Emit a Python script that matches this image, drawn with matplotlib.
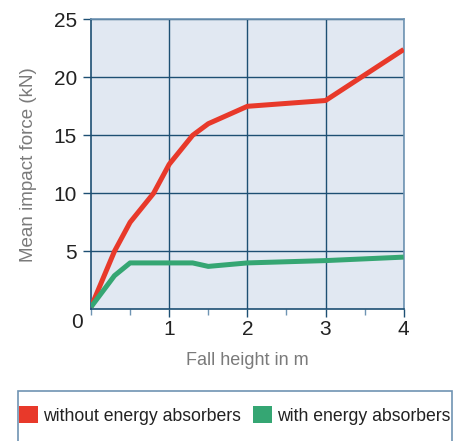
import matplotlib
matplotlib.use("Agg")
import matplotlib.pyplot as plt
from matplotlib.patches import Patch, Rectangle
from matplotlib.ticker import MultipleLocator

# fall height (m) and mean impact force (kN)
h_without = [0, 0.3, 0.5, 0.8, 1.0, 1.3, 1.5, 2.0, 3.0, 4.0]
f_without = [0.2, 5.0, 7.5, 10.0, 12.5, 15.0, 16.0, 17.5, 18.0, 22.4]
h_with = [0, 0.3, 0.5, 1.3, 1.5, 2.0, 3.0, 4.0]
f_with = [0.2, 2.9, 4.0, 4.0, 3.7, 4.0, 4.2, 4.5]

xticks = [1, 2, 3, 4]
yticks = [5, 10, 15, 20, 25]
labels = ["without energy absorbers", "with energy absorbers"]

red = "#e8392a"
green = "#35a673"
navy = "#1d4f73"
light = "#6f94b3"

plt.rcParams['font.family'] = ['Liberation Sans', 'DejaVu Sans']

fig = plt.figure(figsize=(4.65, 4.41), dpi=100)
ax = fig.add_axes([0.1957, 0.2986, 0.6725, 0.6576])
ax.set_facecolor("#e1e8f2")

ax.plot(h_without, f_without, color=red, lw=3.6, solid_capstyle="butt", zorder=3)
ax.plot(h_with, f_with, color=green, lw=3.6, solid_capstyle="butt", zorder=3)

ax.set_xlim(0, 4)
ax.set_ylim(0, 25)
ax.set_xticks(xticks)
ax.set_yticks(yticks)
ax.xaxis.set_minor_locator(MultipleLocator(0.5))
ax.grid(True, which="major", color=navy, lw=1.0)
ax.tick_params(axis="both", which="major", direction="out", length=6, width=1,
               color=navy, labelsize=15, labelcolor="#222222")
ax.tick_params(axis="x", which="minor", direction="out", length=4, width=1, color=light)
ax.tick_params(axis="x", pad=2)
ax.tick_params(axis="y", pad=4)

for s in ["left", "bottom"]:
    ax.spines[s].set_color(navy)
    ax.spines[s].set_linewidth(1.2)
for s in ["top", "right"]:
    ax.spines[s].set_color(light)
    ax.spines[s].set_linewidth(1.2)

ax.text(-0.045, -0.047, "0", transform=ax.transAxes, ha="center", va="center",
        fontsize=15, color="#222222")

ax.set_xlabel("Fall height in m", fontsize=13, color="#7a7a7a", labelpad=9)
ax.set_ylabel("Mean impact force (kN)", fontsize=13.5, color="#7a7a7a", labelpad=12)

# legend box
fig.patches.append(Rectangle((18 / 465, -0.01), 434 / 465, 0.124, transform=fig.transFigure,
                             fill=False, edgecolor=light, lw=1.2))
handles = [Patch(facecolor=red, edgecolor="none"), Patch(facecolor=green, edgecolor="none")]
fig.legend(handles, labels, loc="center", bbox_to_anchor=(0.505, 0.058), ncol=2, frameon=False,
           fontsize=12.7, handlelength=1.05, handleheight=1.05, handletextpad=0.3,
           columnspacing=0.7, labelcolor="#222222")

fig.savefig("out.png", dpi=100)
